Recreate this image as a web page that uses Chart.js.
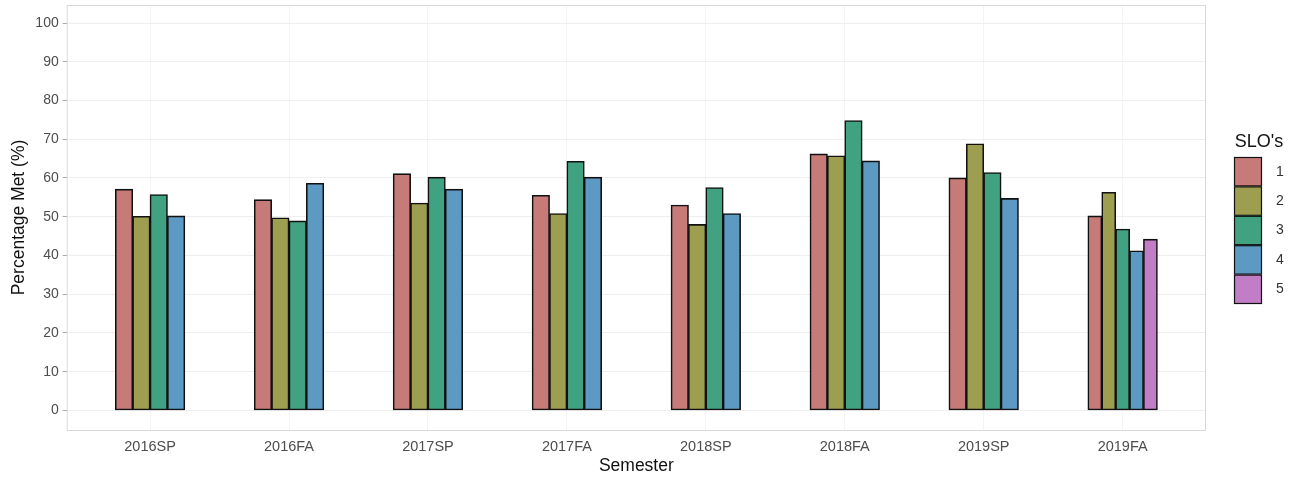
<!DOCTYPE html>
<html>
<head>
<meta charset="utf-8">
<script src="https://cdn.jsdelivr.net/npm/chart.js@4"></script>
<style>
  html, body { margin: 0; padding: 0; background: #fff; }
  #wrap { width: 1294px; height: 478px; }
</style>
</head>
<body>
<div id="wrap"><canvas id="myChart" width="1294" height="478"></canvas></div>
<script>
var semesters = ['2016SP', '2016FA', '2017SP', '2017FA', '2018SP', '2018FA', '2019SP', '2019FA'];
var slo1 = [57.1, 54.4, 61.1, 55.5, 53.0, 66.2, 60.0, 50.2];
var slo2 = [50.1, 49.7, 53.5, 50.8, 48.0, 65.7, 68.8, 56.3];
var slo3 = [55.7, 48.9, 60.2, 64.3, 57.5, 74.8, 61.4, 46.8];
var slo4 = [50.2, 58.6, 57.1, 60.2, 50.8, 64.4, 54.7, 41.2];
var slo5 = [null, null, null, null, null, null, null, 44.2];
var sloNames = ['1', '2', '3', '4', '5'];
var yTicks = [0, 10, 20, 30, 40, 50, 60, 70, 80, 90, 100];

var colors = ['#c67b79', '#9e9e50', '#40a281', '#5c9ac4', '#c17dc6'];
var font = "'Liberation Sans', Arial, sans-serif";

function makeSet(i, values) {
    return {
        label: sloNames[i],
        data: values,
        backgroundColor: colors[i],
        borderColor: '#111',
        borderWidth: 1.6,
        borderSkipped: false,
        inflateAmount: 0.4
    };
}

// panel border, like the ggplot panel
var panelBorder = {
    id: 'panelBorder',
    afterDraw: function(chart) {
        var a = chart.chartArea, c = chart.ctx;
        c.save();
        c.strokeStyle = '#d9d9d9';
        c.lineWidth = 1;
        c.strokeRect(a.left + 0.5, a.top + 0.5, a.right - a.left - 1, a.bottom - a.top);
        c.restore();
    }
};

// legend drawn at the right in ggplot style
var sideLegend = {
    id: 'sideLegend',
    afterDraw: function(chart) {
        var c = chart.ctx;
        var x = chart.chartArea.right + 28, y = 157, h = 29.4, w = 28;
        c.save();
        c.fillStyle = '#111';
        c.font = '18px ' + font;
        c.textAlign = 'center';
        c.textBaseline = 'middle';
        c.fillText("SLO's", x + 25, 142);
        c.font = '14px ' + font;
        c.textAlign = 'left';
        chart.data.datasets.forEach(function(ds, i) {
            var top = y + i * h;
            c.fillStyle = ds.backgroundColor;
            c.fillRect(x, top, w, h);
            c.strokeStyle = '#111';
            c.lineWidth = 1.2;
            c.strokeRect(x + 0.5, top + 0.5, w - 1, h - 1);
            c.fillStyle = '#333';
            c.fillText(ds.label, x + 42, top + h / 2);
        });
        c.restore();
    }
};

var ctx = document.getElementById('myChart');
var myChart = new Chart(ctx, {
    type: 'bar',
    data: {
        labels: semesters,
        datasets: [
            makeSet(0, slo1),
            makeSet(1, slo2),
            makeSet(2, slo3),
            makeSet(3, slo4),
            makeSet(4, slo5)
        ]
    },
    options: {
        responsive: false,
        animation: false,
        devicePixelRatio: 1,
        skipNull: true,
        categoryPercentage: 0.5,
        barPercentage: 1,
        layout: { padding: { top: 5, right: 88, left: 0, bottom: 0 } },
        plugins: {
            legend: { display: false },
            tooltip: { enabled: false }
        },
        scales: {
            x: {
                offset: true,
                grid: { display: true, offset: false, color: '#f4f4f4', tickLength: 4, tickColor: 'rgba(0,0,0,0)', drawTicks: true },
                border: { display: false },
                ticks: { color: '#4d4d4d', font: { family: font, size: 14.5 }, padding: 4, maxRotation: 0 },
                title: { display: true, text: 'Semester', color: '#111', font: { family: font, size: 17.5 }, padding: { top: 0, bottom: 1 } },
                afterBuildTicks: function(s) {
                    // ggplot style discrete expansion of 0.6 each side
                    s._startValue = -0.6;
                    s._valueRange = semesters.length + 0.2;
                },
                afterFit: function(s) { s.height = 48; s.paddingLeft = 0; s.paddingRight = 0; }
            },
            y: {
                min: -5.05,
                max: 104.65,
                grid: { color: '#eeeeee', tickLength: 4, tickColor: '#aaaaaa' },
                border: { display: false },
                ticks: { color: '#4d4d4d', font: { family: font, size: 14 }, padding: 4, stepSize: 10, includeBounds: false },
                afterBuildTicks: function(s) {
                    s.ticks = yTicks.map(function(v) { return { value: v }; });
                },
                title: { display: true, text: 'Percentage Met (%)', color: '#111', font: { family: font, size: 17.5 }, padding: { top: 9, bottom: 0 } },
                afterFit: function(s) { s.width = 66.7; s.paddingTop = 0; s.paddingBottom = 0; }
            }
        }
    },
    plugins: [panelBorder, sideLegend]
});
</script>
</body>
</html>
